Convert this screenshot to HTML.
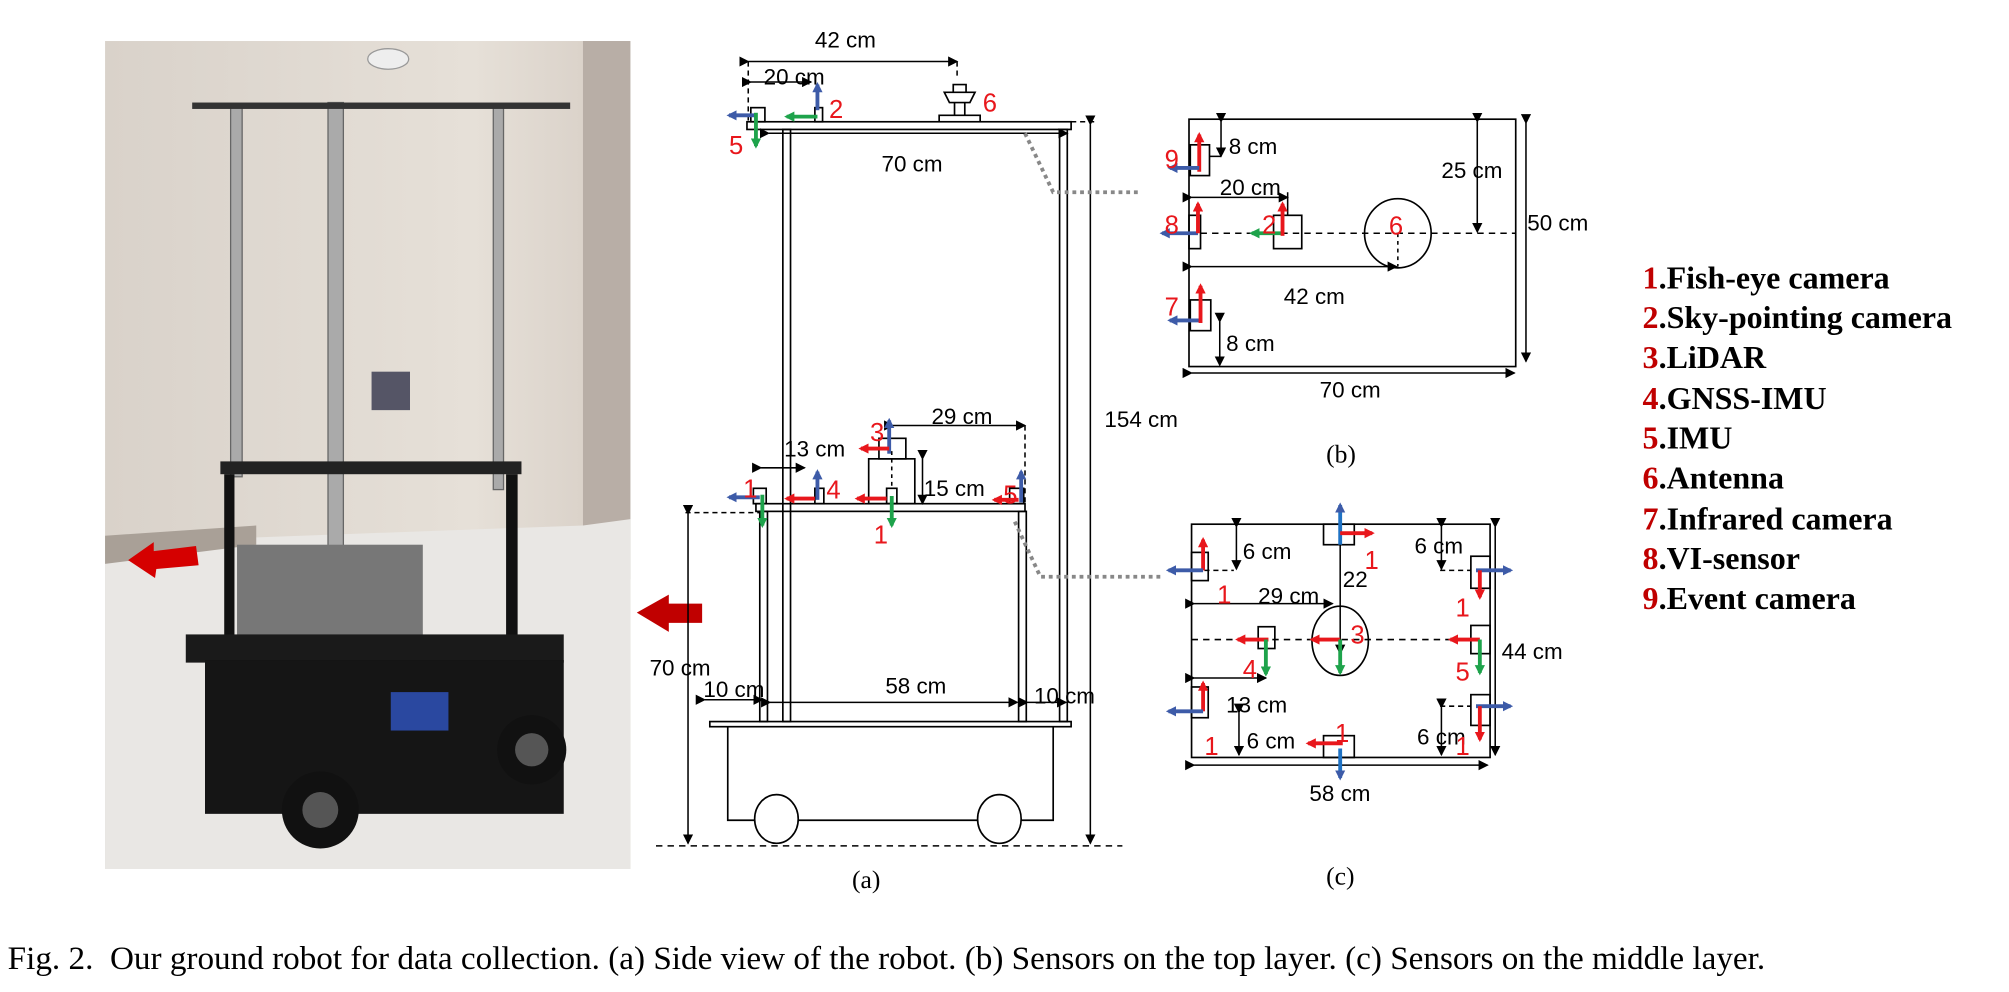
<!DOCTYPE html>
<html><head><meta charset="utf-8"><style>
html,body{margin:0;padding:0;background:#fff;}
svg{display:block;}
.t{font-family:"Liberation Sans",sans-serif;font-size:17.5px;fill:#000;}
.r{font-family:"Liberation Sans",sans-serif;font-size:20px;fill:#e8171c;}
.s{font-family:"Liberation Serif",serif;font-size:20px;fill:#000;}
.lg{font-family:"Liberation Serif",serif;font-size:25px;font-weight:bold;fill:#000;}
.lg tspan.n{fill:#c00000;}
</style></head><body>
<svg width="2009" height="992" viewBox="0 0 1568 774" preserveAspectRatio="none" xmlns="http://www.w3.org/2000/svg">
<defs>
<marker id="ak" markerWidth="8" markerHeight="8" refX="7" refY="4" orient="auto" markerUnits="userSpaceOnUse"><path d="M0,0 L8,4 L0,8 z" fill="#000"/></marker>
<marker id="ar" markerWidth="8" markerHeight="8" refX="6" refY="4" orient="auto" markerUnits="userSpaceOnUse"><path d="M0,0 L8,4 L0,8 z" fill="#e8171c"/></marker>
<marker id="ab" markerWidth="8" markerHeight="8" refX="6" refY="4" orient="auto" markerUnits="userSpaceOnUse"><path d="M0,0 L8,4 L0,8 z" fill="#3d5ba8"/></marker>
<marker id="ag" markerWidth="8" markerHeight="8" refX="6" refY="4" orient="auto" markerUnits="userSpaceOnUse"><path d="M0,0 L8,4 L0,8 z" fill="#1ea34b"/></marker>
<linearGradient id="wall" x1="0" y1="0" x2="1" y2="0"><stop offset="0" stop-color="#d9d2ca"/><stop offset="0.7" stop-color="#e6e0d8"/><stop offset="1" stop-color="#d6cdc4"/></linearGradient>
</defs>
<!-- photo -->
<rect x="82" y="32" width="410" height="646" fill="url(#wall)"/>
<rect x="455" y="32" width="37" height="420" fill="#b8aea6"/>
<polygon points="82,432 180,420 455,410 492,405 492,678 82,678" fill="#e9e7e4"/>
<polygon points="82,418 200,410 200,425 82,440" fill="#a9a097"/>
<g fill="#aaa" stroke="#666" stroke-width="1">
<rect x="180" y="82" width="9" height="290"/><rect x="256" y="80" width="12" height="455"/><rect x="385" y="82" width="8" height="300"/>
</g>
<rect x="150" y="80" width="295" height="5" fill="#333"/>
<ellipse cx="303" cy="46" rx="16" ry="8" fill="#eee" stroke="#999"/>
<rect x="290" y="290" width="30" height="30" fill="#556"/>
<rect x="172" y="360" width="235" height="10" fill="#222"/>
<rect x="175" y="370" width="8" height="175" fill="#111"/><rect x="395" y="370" width="9" height="140" fill="#111"/>
<rect x="185" y="425" width="145" height="75" fill="#777"/>
<rect x="145" y="495" width="295" height="22" fill="#1a1a1a"/>
<rect x="160" y="515" width="280" height="120" fill="#151515"/>
<rect x="305" y="540" width="45" height="30" fill="#2a48a0"/>
<circle cx="250" cy="632" r="30" fill="#111"/><circle cx="250" cy="632" r="14" fill="#555"/>
<circle cx="415" cy="585" r="27" fill="#111"/><circle cx="415" cy="585" r="13" fill="#555"/>
<polygon points="100,437 120,423 120,430 153,426 155,441 122,444 121,451" fill="#d50000"/>
<polygon points="497,478 522,464 522,471 548,471 548,486 522,486 522,493" fill="#c00000"/>

<!-- (a) side view -->
<g fill="none" stroke="#000" stroke-width="1.3">
<rect x="583" y="95" width="253" height="6"/>
<rect x="611" y="101" width="6" height="462"/>
<rect x="827" y="101" width="6" height="462"/>
<rect x="590" y="393" width="210" height="6"/>
<rect x="593" y="399" width="6" height="164"/>
<rect x="795" y="399" width="6" height="164"/>
<rect x="554" y="563" width="282" height="4"/>
<polyline points="568,567 568,640 822,640 822,567"/>
<ellipse cx="606" cy="639" rx="17" ry="19" fill="#fff"/>
<ellipse cx="780" cy="639" rx="17" ry="19" fill="#fff"/>
<rect x="586" y="84" width="11" height="11"/>
<rect x="636" y="84" width="6" height="11"/>
<rect x="686" y="342" width="21" height="16"/>
<rect x="678" y="358" width="36" height="35"/>
<rect x="636" y="381" width="7" height="12"/>
<rect x="692" y="381" width="8" height="12"/>
<rect x="788" y="381" width="11" height="12"/>
<rect x="588" y="381" width="10" height="12"/>
<path d="M733,95 v-5 h32 v5 M745,90 v-10 h8 v10 M741,80 l-4,-8 h24 l-4,8 z M744,72 v-6 h10 v6"/>
</g>
<g stroke="#000" stroke-width="1.2" fill="none">
<line x1="584" y1="48" x2="747" y2="48" marker-start="url(#ak)" marker-end="url(#ak)"/>
<line x1="584" y1="48" x2="584" y2="95" stroke-dasharray="4,3"/>
<line x1="747" y1="48" x2="747" y2="60" stroke-dasharray="4,3"/>
<line x1="586" y1="64" x2="633" y2="64" marker-start="url(#ak)" marker-end="url(#ak)"/>
<line x1="600" y1="104" x2="833" y2="104" marker-start="url(#ak)" marker-end="url(#ak)"/>
<line x1="851" y1="97" x2="851" y2="658" marker-start="url(#ak)" marker-end="url(#ak)"/>
<line x1="836" y1="95" x2="855" y2="95" stroke-dasharray="4,3"/>
<line x1="697" y1="332" x2="800" y2="332" marker-start="url(#ak)" marker-end="url(#ak)"/>
<line x1="800" y1="332" x2="800" y2="393" stroke-dasharray="4,3"/>
<line x1="594" y1="365" x2="628" y2="365" marker-start="url(#ak)" marker-end="url(#ak)"/>
<line x1="720" y1="358" x2="720" y2="393" marker-start="url(#ak)" marker-end="url(#ak)"/>
<line x1="537" y1="401" x2="537" y2="658" marker-start="url(#ak)" marker-end="url(#ak)"/>
<line x1="535" y1="400" x2="594" y2="400" stroke-dasharray="4,3"/>
<line x1="550" y1="546" x2="595" y2="546" marker-start="url(#ak)" marker-end="url(#ak)"/>
<line x1="601" y1="548" x2="794" y2="548" marker-start="url(#ak)" marker-end="url(#ak)"/>
<line x1="802" y1="548" x2="832" y2="548" marker-start="url(#ak)" marker-end="url(#ak)"/>
<line x1="512" y1="660" x2="876" y2="660" stroke-dasharray="5,4"/>
<line x1="696" y1="352" x2="696" y2="381" stroke-dasharray="3,3"/>
</g>
<g stroke="#888" stroke-width="3" fill="none" stroke-dasharray="3,3">
<polyline points="800,104 822,150 890,150"/>
<polyline points="792,407 812,450 908,450"/>
</g>
<g stroke-width="3" fill="none">
<line x1="638" y1="86" x2="638" y2="66" stroke="#3d5ba8" marker-end="url(#ab)"/>
<line x1="638" y1="91" x2="614" y2="91" stroke="#1ea34b" marker-end="url(#ag)"/>
<line x1="590" y1="90" x2="569" y2="90" stroke="#3d5ba8" marker-end="url(#ab)"/>
<line x1="590" y1="88" x2="590" y2="114" stroke="#1ea34b" marker-end="url(#ag)"/>
<line x1="694" y1="354" x2="694" y2="328" stroke="#3d5ba8" marker-end="url(#ab)"/>
<line x1="694" y1="350" x2="672" y2="350" stroke="#e8171c" marker-end="url(#ar)"/>
<line x1="638" y1="390" x2="638" y2="368" stroke="#3d5ba8" marker-end="url(#ab)"/>
<line x1="636" y1="389" x2="614" y2="389" stroke="#e8171c" marker-end="url(#ar)"/>
<line x1="692" y1="389" x2="669" y2="389" stroke="#e8171c" marker-end="url(#ar)"/>
<line x1="696" y1="387" x2="696" y2="410" stroke="#1ea34b" marker-end="url(#ag)"/>
<line x1="797" y1="392" x2="797" y2="368" stroke="#3d5ba8" marker-end="url(#ab)"/>
<line x1="795" y1="390" x2="776" y2="390" stroke="#e8171c" marker-end="url(#ar)"/>
<line x1="593" y1="388" x2="569" y2="388" stroke="#3d5ba8" marker-end="url(#ab)"/>
<line x1="595" y1="386" x2="595" y2="410" stroke="#1ea34b" marker-end="url(#ag)"/>
</g>
<text class="t" x="636" y="37">42 cm</text>
<text class="t" x="596" y="66">20 cm</text>
<text class="r" x="647" y="92">2</text>
<text class="r" x="569" y="120">5</text>
<text class="r" x="767" y="87">6</text>
<text class="t" x="688" y="134">70 cm</text>
<text class="t" x="862" y="333">154 cm</text>
<text class="r" x="679" y="344">3</text>
<text class="t" x="727" y="331">29 cm</text>
<text class="t" x="612" y="356">13 cm</text>
<text class="r" x="645" y="389">4</text>
<text class="r" x="682" y="424">1</text>
<text class="t" x="721" y="387">15 cm</text>
<text class="r" x="783" y="393">5</text>
<text class="r" x="580" y="388">1</text>
<text class="t" x="507" y="527">70 cm</text>
<text class="t" x="549" y="544">10 cm</text>
<text class="t" x="691" y="541">58 cm</text>
<text class="t" x="807" y="549">10 cm</text>
<text class="s" x="665" y="693">(a)</text>

<!-- (b) top layer -->
<g fill="none" stroke="#000" stroke-width="1.3">
<rect x="928" y="93" width="255" height="193"/>
<rect x="929" y="113" width="15" height="24"/>
<rect x="928" y="168" width="9" height="26"/>
<rect x="994" y="168" width="22" height="26"/>
<ellipse cx="1091" cy="182" rx="26" ry="27"/>
<rect x="929" y="234" width="16" height="24"/>
</g>
<g stroke="#000" stroke-width="1.2" fill="none">
<line x1="953" y1="95" x2="953" y2="122" marker-start="url(#ak)" marker-end="url(#ak)"/>
<line x1="944" y1="122" x2="953" y2="122"/>
<line x1="1153" y1="95" x2="1153" y2="181" marker-start="url(#ak)" marker-end="url(#ak)"/>
<line x1="1191" y1="96" x2="1191" y2="282" marker-start="url(#ak)" marker-end="url(#ak)"/>
<line x1="930" y1="154" x2="1005" y2="154" marker-start="url(#ak)" marker-end="url(#ak)"/>
<line x1="1005" y1="150" x2="1005" y2="168"/>
<line x1="937" y1="182" x2="1183" y2="182" stroke-dasharray="5,4"/>
<line x1="1091" y1="182" x2="1091" y2="208" stroke-dasharray="3,3"/>
<line x1="930" y1="208" x2="1090" y2="208" marker-start="url(#ak)" marker-end="url(#ak)"/>
<line x1="952" y1="251" x2="952" y2="285" marker-start="url(#ak)" marker-end="url(#ak)"/>
<line x1="930" y1="291" x2="1182" y2="291" marker-start="url(#ak)" marker-end="url(#ak)"/>
</g>
<g stroke-width="3" fill="none">
<line x1="936" y1="134" x2="936" y2="105" stroke="#e8171c" marker-end="url(#ar)"/>
<line x1="936" y1="131" x2="913" y2="131" stroke="#3d5ba8" marker-end="url(#ab)"/>
<line x1="935" y1="182" x2="907" y2="182" stroke="#3d5ba8" marker-end="url(#ab)"/>
<line x1="935" y1="182" x2="935" y2="159" stroke="#e8171c" marker-end="url(#ar)"/>
<line x1="1001" y1="182" x2="977" y2="182" stroke="#1ea34b" marker-end="url(#ag)"/>
<line x1="1001" y1="184" x2="1001" y2="159" stroke="#e8171c" marker-end="url(#ar)"/>
<line x1="937" y1="250" x2="913" y2="250" stroke="#3d5ba8" marker-end="url(#ab)"/>
<line x1="937" y1="252" x2="937" y2="223" stroke="#e8171c" marker-end="url(#ar)"/>
</g>
<text class="r" x="909" y="131">9</text>
<text class="t" x="959" y="120">8 cm</text>
<text class="t" x="1125" y="139">25 cm</text>
<text class="t" x="1192" y="180">50 cm</text>
<text class="t" x="952" y="152">20 cm</text>
<text class="r" x="909" y="182">8</text>
<text class="r" x="985" y="182">2</text>
<text class="r" x="1084" y="183">6</text>
<text class="t" x="1002" y="237">42 cm</text>
<text class="r" x="909" y="246">7</text>
<text class="t" x="957" y="274">8 cm</text>
<text class="t" x="1030" y="310">70 cm</text>
<text class="s" x="1035" y="361">(b)</text>

<!-- (c) middle layer -->
<g fill="none" stroke="#000" stroke-width="1.3">
<rect x="930" y="409" width="233" height="182"/>
<rect x="1033" y="409" width="24" height="16"/>
<ellipse cx="1046" cy="500" rx="22" ry="27"/>
<rect x="930" y="431" width="13" height="22"/>
<rect x="982" y="489" width="13" height="17"/>
<rect x="930" y="536" width="13" height="24"/>
<rect x="1033" y="574" width="24" height="17"/>
<rect x="1148" y="434" width="15" height="25"/>
<rect x="1148" y="488" width="15" height="22"/>
<rect x="1148" y="542" width="15" height="24"/>
</g>
<g stroke="#000" stroke-width="1.2" fill="none">
<line x1="1046" y1="425" x2="1046" y2="510" marker-end="url(#ak)"/>
<line x1="940" y1="445" x2="963" y2="445" stroke-dasharray="4,3"/>
<line x1="965" y1="411" x2="965" y2="444" marker-start="url(#ak)" marker-end="url(#ak)"/>
<line x1="932" y1="471" x2="1040" y2="471" marker-start="url(#ak)" marker-end="url(#ak)"/>
<line x1="930" y1="499" x2="1148" y2="499" stroke-dasharray="5,4"/>
<line x1="932" y1="529" x2="988" y2="529" marker-start="url(#ak)" marker-end="url(#ak)"/>
<line x1="967" y1="556" x2="967" y2="589" marker-start="url(#ak)" marker-end="url(#ak)"/>
<line x1="932" y1="597" x2="1161" y2="597" marker-start="url(#ak)" marker-end="url(#ak)"/>
<line x1="1124" y1="445" x2="1148" y2="445" stroke-dasharray="4,3"/>
<line x1="1125" y1="411" x2="1125" y2="444" marker-start="url(#ak)" marker-end="url(#ak)"/>
<line x1="1124" y1="551" x2="1148" y2="551" stroke-dasharray="4,3"/>
<line x1="1125" y1="552" x2="1125" y2="589" marker-start="url(#ak)" marker-end="url(#ak)"/>
<line x1="1167" y1="411" x2="1167" y2="589" marker-start="url(#ak)" marker-end="url(#ak)"/>
</g>
<g stroke-width="3" fill="none">
<line x1="1046" y1="425" x2="1046" y2="394" stroke="#1f72c4" marker-end="url(#ab)"/>
<line x1="1046" y1="416" x2="1071" y2="416" stroke="#e8171c" marker-end="url(#ar)"/>
<line x1="1046" y1="499" x2="1024" y2="499" stroke="#e8171c" marker-end="url(#ar)"/>
<line x1="1046" y1="499" x2="1046" y2="525" stroke="#1ea34b" marker-end="url(#ag)"/>
<line x1="939" y1="445" x2="939" y2="421" stroke="#e8171c" marker-end="url(#ar)"/>
<line x1="939" y1="445" x2="912" y2="445" stroke="#3d5ba8" marker-end="url(#ab)"/>
<line x1="990" y1="499" x2="966" y2="499" stroke="#e8171c" marker-end="url(#ar)"/>
<line x1="988" y1="499" x2="988" y2="526" stroke="#1ea34b" marker-end="url(#ag)"/>
<line x1="939" y1="555" x2="939" y2="533" stroke="#e8171c" marker-end="url(#ar)"/>
<line x1="939" y1="555" x2="912" y2="555" stroke="#3d5ba8" marker-end="url(#ab)"/>
<line x1="1048" y1="580" x2="1021" y2="580" stroke="#e8171c" marker-end="url(#ar)"/>
<line x1="1046" y1="584" x2="1046" y2="607" stroke="#1f72c4" marker-end="url(#ab)"/>
<line x1="1152" y1="445" x2="1179" y2="445" stroke="#3d5ba8" marker-end="url(#ab)"/>
<line x1="1155" y1="445" x2="1155" y2="466" stroke="#e8171c" marker-end="url(#ar)"/>
<line x1="1155" y1="499" x2="1132" y2="499" stroke="#e8171c" marker-end="url(#ar)"/>
<line x1="1155" y1="499" x2="1155" y2="525" stroke="#1ea34b" marker-end="url(#ag)"/>
<line x1="1152" y1="551" x2="1179" y2="551" stroke="#3d5ba8" marker-end="url(#ab)"/>
<line x1="1155" y1="551" x2="1155" y2="577" stroke="#e8171c" marker-end="url(#ar)"/>
</g>
<text class="r" x="1065" y="444">1</text>
<text class="t" x="1048" y="458">22</text>
<text class="r" x="1054" y="502">3</text>
<text class="t" x="970" y="436">6 cm</text>
<text class="r" x="950" y="471">1</text>
<text class="t" x="982" y="471">29 cm</text>
<text class="r" x="970" y="529">4</text>
<text class="t" x="957" y="556">13 cm</text>
<text class="r" x="940" y="589">1</text>
<text class="t" x="973" y="584">6 cm</text>
<text class="r" x="1042" y="579">1</text>
<text class="t" x="1022" y="625">58 cm</text>
<text class="t" x="1104" y="432">6 cm</text>
<text class="r" x="1136" y="481">1</text>
<text class="r" x="1136" y="531">5</text>
<text class="t" x="1172" y="514">44 cm</text>
<text class="t" x="1106" y="581">6 cm</text>
<text class="r" x="1136" y="589">1</text>
<text class="s" x="1035" y="690">(c)</text>

<!-- legend -->
<text class="lg" x="1282" y="225"><tspan class="n">1</tspan>.Fish-eye camera</text>
<text class="lg" x="1282" y="256"><tspan class="n">2</tspan>.Sky-pointing camera</text>
<text class="lg" x="1282" y="287"><tspan class="n">3</tspan>.LiDAR</text>
<text class="lg" x="1282" y="319"><tspan class="n">4</tspan>.GNSS-IMU</text>
<text class="lg" x="1282" y="350"><tspan class="n">5</tspan>.IMU</text>
<text class="lg" x="1282" y="381"><tspan class="n">6</tspan>.Antenna</text>
<text class="lg" x="1282" y="413"><tspan class="n">7</tspan>.Infrared camera</text>
<text class="lg" x="1282" y="444"><tspan class="n">8</tspan>.VI-sensor</text>
<text class="lg" x="1282" y="475"><tspan class="n">9</tspan>.Event camera</text>

<text class="s" x="6" y="756" style="font-size:25.9px" xml:space="preserve">Fig. 2.  Our ground robot for data collection. (a) Side view of the robot. (b) Sensors on the top layer. (c) Sensors on the middle layer.</text>
</svg>
</body></html>
